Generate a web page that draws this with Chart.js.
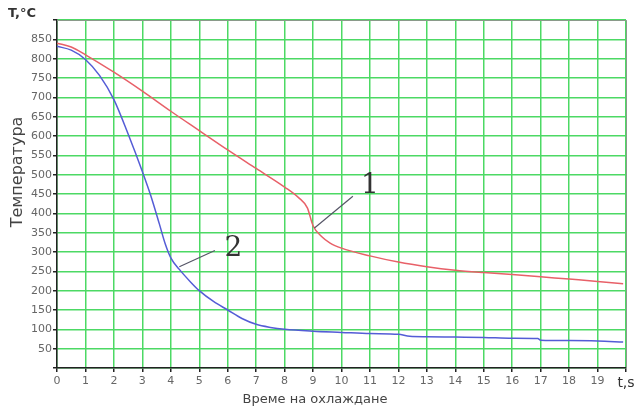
<!DOCTYPE html>
<html>
<head>
<meta charset="utf-8">
<script src="https://cdn.jsdelivr.net/npm/chart.js@4/dist/chart.umd.min.js"></script>
<style>
	html, body { margin: 0; padding: 0; background: #fff; }
	#wrap { width: 640px; height: 412px; position: relative; }
</style>
</head>
<body>
<div id="wrap"><canvas id="cooling"></canvas></div>
<script>
// curve 1 (red) - slow cooling
const times1 = [0, 0.5, 1, 2, 3, 4, 5, 6, 7, 8, 8.5, 8.8, 9, 9.3, 9.6, 10, 11, 12, 13, 14, 15, 16, 17, 18, 19, 19.9];
const temp1 = [840, 830, 810, 765, 716, 664, 614, 564, 516, 468, 440, 414, 368, 340, 323, 310, 290, 274, 262, 253, 247, 242, 236, 230, 224, 218];

// curve 2 (blue) - fast cooling
const times2 = [0, 0.5, 1, 1.5, 2, 2.5, 3, 3.3, 3.6, 3.8, 4, 4.3, 4.7, 5, 5.5, 6, 6.5, 7, 7.5, 8, 9, 10, 11, 12, 12.4, 13, 14, 15, 16, 16.9, 17, 18, 19, 19.9];
const temp2 = [832, 822, 798, 756, 694, 605, 508, 445, 372, 322, 285, 255, 222, 200, 172, 150, 128, 113, 105, 100, 95, 92, 89, 87, 82, 81, 80, 79, 77, 76, 72, 71, 70, 67];

// axis labels
const xTickLabels = ['0', '1', '2', '3', '4', '5', '6', '7', '8', '9', '10', '11', '12', '13', '14', '15', '16', '17', '18', '19', 't,s'];
const yUnit = 'T,°C';
const yTitle = 'Температура';
const xTitle = 'Време на охлаждане';

// curve numbers with their leader lines: [curve point, line end, label]
const callouts = [
	{ text: '1', from: [9.05, 362], to: [10.4, 444], at: [11.0, 472] },
	{ text: '2', from: [4.3, 262], to: [5.55, 304], at: [6.2, 309] }
];

const toPoints = (xs, ys) => xs.map((x, i) => ({ x: x, y: ys[i] }));

const GRID = '#4cd964';

const decorations = {
	id: 'decorations',
	afterDatasetsDraw(chart) {
		const ctx = chart.ctx;
		const xs = chart.scales.x;
		const ys = chart.scales.y;
		const area = chart.chartArea;

		ctx.save();
		// frame top/right
		ctx.strokeStyle = '#8a9a8a';
		ctx.lineWidth = 1;
		ctx.beginPath();
		ctx.moveTo(area.left, area.top + 0.5);
		ctx.lineTo(area.right + 0.5, area.top + 0.5);
		ctx.lineTo(area.right + 0.5, area.bottom);
		ctx.stroke();

		// callouts
		callouts.forEach(c => {
			ctx.strokeStyle = '#556';
			ctx.lineWidth = 1.2;
			ctx.beginPath();
			ctx.moveTo(xs.getPixelForValue(c.from[0]), ys.getPixelForValue(c.from[1]));
			ctx.lineTo(xs.getPixelForValue(c.to[0]), ys.getPixelForValue(c.to[1]));
			ctx.stroke();
			ctx.fillStyle = '#333';
			ctx.font = '28px "DejaVu Serif", serif';
			ctx.textAlign = 'center';
			ctx.textBaseline = 'middle';
			ctx.fillText(c.text, xs.getPixelForValue(c.at[0]), ys.getPixelForValue(c.at[1]));
		});

		// titles
		ctx.fillStyle = '#333';
		ctx.font = 'bold 13px "DejaVu Sans", sans-serif';
		ctx.textAlign = 'left';
		ctx.textBaseline = 'middle';
		ctx.fillText(yUnit, 8, 14);

		ctx.fillStyle = '#444';
		ctx.font = '13px "DejaVu Sans", sans-serif';
		ctx.textAlign = 'center';
		ctx.fillText(xTitle, 315, 400);

		ctx.font = '16px "DejaVu Sans", sans-serif';
		ctx.translate(18, 172);
		ctx.rotate(-Math.PI / 2);
		ctx.fillText(yTitle, 0, 0);
		ctx.restore();
	}
};

new Chart(document.getElementById('cooling'), {
	type: 'line',
	data: {
		datasets: [
			{
				label: '1',
				data: toPoints(times1, temp1),
				borderColor: '#e86068',
				borderWidth: 1.5,
				pointRadius: 0,
				cubicInterpolationMode: 'monotone'
			},
			{
				label: '2',
				data: toPoints(times2, temp2),
				borderColor: '#545cd6',
				borderWidth: 1.5,
				pointRadius: 0,
				cubicInterpolationMode: 'monotone'
			}
		]
	},
	options: {
		responsive: true,
		maintainAspectRatio: false,
		animation: false,
		layout: { padding: { top: 20, right: 14, left: 0, bottom: 0 } },
		plugins: {
			legend: { display: false },
			tooltip: { enabled: false }
		},
		scales: {
			x: {
				type: 'linear',
				min: 0,
				max: 20,
				afterFit: scale => {
					scale.height = 44;
					scale.paddingLeft = 0;
					scale.paddingRight = 0;
				},
				ticks: {
					stepSize: 1,
					autoSkip: false,
					maxRotation: 0,
					padding: 3,
					callback: value => xTickLabels[value],
					color: ctx => (ctx.tick && ctx.tick.value === 20) ? '#333' : '#666',
					font: ctx => (ctx.tick && ctx.tick.value === 20)
						? { family: '"DejaVu Sans", sans-serif', size: 14 }
						: { family: '"DejaVu Sans", sans-serif', size: 11 }
				},
				grid: { display: true, drawOnChartArea: true, color: GRID, lineWidth: 1.5, tickLength: 4, tickColor: '#222' },
				border: { color: '#222', width: 1.5 }
			},
			y: {
				type: 'linear',
				min: 0,
				max: 900,
				afterFit: scale => {
					scale.width = 57;
					scale.paddingTop = 0;
					scale.paddingBottom = 0;
				},
				ticks: {
					stepSize: 50,
					padding: 1,
					color: '#666',
					font: { family: '"DejaVu Sans", sans-serif', size: 11 },
					callback: value => (value === 0 || value === 900) ? '' : String(value)
				},
				grid: { display: true, drawOnChartArea: true, color: GRID, lineWidth: 1.5, tickLength: 4, tickColor: '#222' },
				border: { color: '#222', width: 1.5 }
			}
		}
	},
	plugins: [decorations]
});
</script>
</body>
</html>
